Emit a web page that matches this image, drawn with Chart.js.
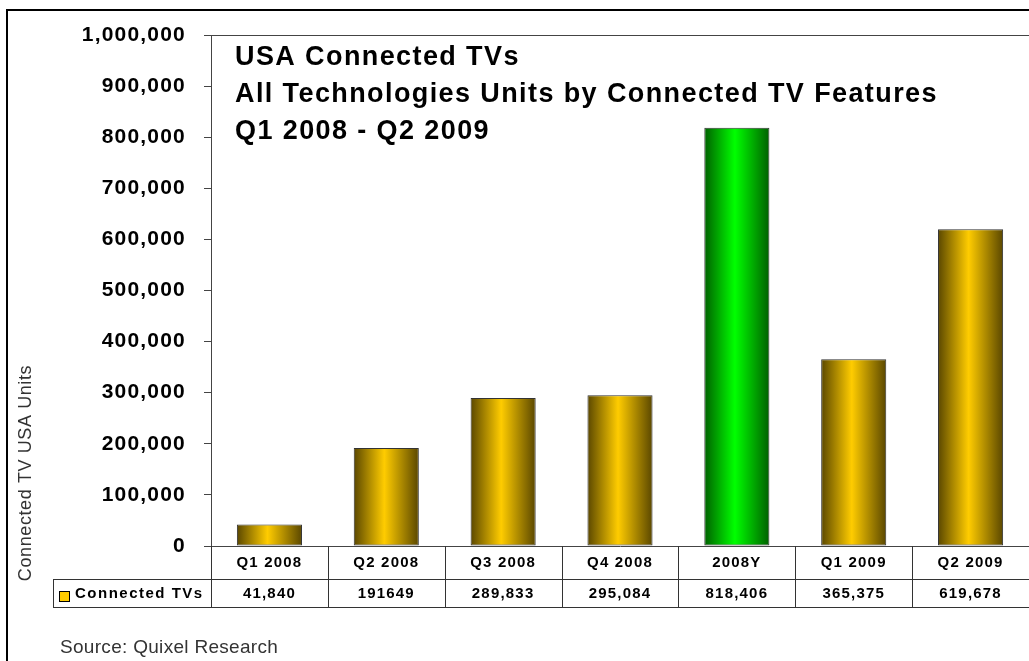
<!DOCTYPE html>
<html>
<head>
<meta charset="utf-8">
<script src="https://cdn.jsdelivr.net/npm/chart.js@4.4.1/dist/chart.umd.min.js"></script>
<style>
  html, body { margin: 0; padding: 0; background: #fff; overflow: hidden; }
  #box { width: 1029px; height: 661px; }
</style>
</head>
<body>
<div id="box"><canvas id="mycanvas"></canvas></div>
<script>
var categories = ['Q1 2008', 'Q2 2008', 'Q3 2008', 'Q4 2008', '2008Y', 'Q1 2009', 'Q2 2009'];
var connectedTVs = [41840, 191649, 289833, 295084, 818406, 365375, 619678];
// table row text as printed in the picture
var tableLabels = ['41,840', '191649', '289,833', '295,084', '818,406', '365,375', '619,678'];
var yTicks = [0, 100000, 200000, 300000, 400000, 500000, 600000, 700000, 800000, 900000, 1000000];
var titleLines = ['USA Connected TVs', 'All Technologies Units by Connected TV Features', 'Q1 2008 - Q2 2009'];
var seriesName = 'Connected TVs';
var yTitle = 'Connected TV USA Units';
var sourceText = 'Source: Quixel Research';

var FONT = '"Liberation Sans", Arial, sans-serif';
var BAR_PCT = 0.557;

function barFill(context) {
  var chart = context.chart;
  var xs = chart.scales.x;
  var green = categories[context.dataIndex] === '2008Y';
  var edge = green ? '#006000' : '#5a4700';
  var mid = green ? '#00ff00' : '#ffcc00';
  if (!xs || !chart.chartArea) return mid;
  var cx = xs.getPixelForValue(context.dataIndex);
  var half = xs.width / categories.length * BAR_PCT / 2;
  var g = chart.ctx.createLinearGradient(cx - half, 0, cx + half, 0);
  g.addColorStop(0, edge);
  g.addColorStop(0.47, mid);
  g.addColorStop(1, edge);
  return g;
}

var extras = {
  id: 'extras',
  beforeDraw: function(chart) {
    chart.ctx.letterSpacing = '1.2px';
  },
  afterDraw: function(chart) {
    var ctx = chart.ctx;
    var area = chart.chartArea;
    var xs = chart.scales.x;
    var cw = xs.width / categories.length;
    var rowTop = area.bottom + 33;
    var rowBot = area.bottom + 61;
    var tableLeft = 53;

    ctx.save();
    // plot area top edge
    ctx.strokeStyle = '#444';
    ctx.lineWidth = 1;
    ctx.beginPath();
    ctx.moveTo(area.left, area.top + 0.5);
    ctx.lineTo(area.right, area.top + 0.5);
    ctx.stroke();

    // data table grid
    ctx.strokeStyle = '#333';
    ctx.beginPath();
    ctx.moveTo(tableLeft, rowTop + 0.5);
    ctx.lineTo(area.right, rowTop + 0.5);
    ctx.moveTo(tableLeft, rowBot + 0.5);
    ctx.lineTo(area.right, rowBot + 0.5);
    ctx.moveTo(tableLeft + 0.5, rowTop);
    ctx.lineTo(tableLeft + 0.5, rowBot);
    for (var i = 0; i <= categories.length; i++) {
      var lx = Math.round(xs.getPixelForValue(i) - cw / 2) + 0.5;
      ctx.moveTo(lx, area.bottom);
      ctx.lineTo(lx, rowBot);
    }
    ctx.stroke();

    // legend key + series name
    ctx.fillStyle = '#ffcc00';
    ctx.fillRect(59.5, rowTop + 12.5, 10, 10);
    ctx.strokeStyle = '#000';
    ctx.strokeRect(59.5, rowTop + 12.5, 10, 10);

    ctx.fillStyle = '#000';
    ctx.font = 'bold 15px ' + FONT;
    ctx.letterSpacing = '1.5px';
    ctx.textBaseline = 'middle';
    ctx.textAlign = 'left';
    ctx.fillText(seriesName, 75, (rowTop + rowBot) / 2 + 1);
    ctx.letterSpacing = '1.2px';
    ctx.textAlign = 'center';
    for (var j = 0; j < tableLabels.length; j++) {
      ctx.fillText(tableLabels[j], xs.getPixelForValue(j), (rowTop + rowBot) / 2 + 1);
    }

    // title block
    ctx.font = 'bold 27px ' + FONT;
    ctx.letterSpacing = '1.4px';
    ctx.textAlign = 'left';
    ctx.textBaseline = 'alphabetic';
    for (var k = 0; k < titleLines.length; k++) {
      ctx.fillText(titleLines[k], 235, 65 + k * 37);
    }

    // y axis title
    ctx.save();
    ctx.translate(26, 473);
    ctx.rotate(-Math.PI / 2);
    ctx.font = '18px ' + FONT;
    ctx.letterSpacing = '0.6px';
    ctx.fillStyle = '#333';
    ctx.textAlign = 'center';
    ctx.textBaseline = 'middle';
    ctx.fillText(yTitle, 0, 0);
    ctx.restore();

    // source note
    ctx.font = '19px ' + FONT;
    ctx.letterSpacing = '0.3px';
    ctx.fillStyle = '#333';
    ctx.textAlign = 'left';
    ctx.textBaseline = 'alphabetic';
    ctx.fillText(sourceText, 60, 653);

    // outer frame
    ctx.strokeStyle = '#000';
    ctx.lineWidth = 2;
    ctx.beginPath();
    ctx.moveTo(7, 700);
    ctx.lineTo(7, 10);
    ctx.lineTo(1040, 10);
    ctx.stroke();
    ctx.restore();
  }
};

var ctx = document.getElementById('mycanvas');

var Graph = new Chart(ctx, {
  type: 'bar',
  data: {
    labels: categories,
    datasets: [{
      label: seriesName,
      data: connectedTVs,
      backgroundColor: barFill,
      borderColor: '#333',
      borderWidth: 1,
      borderSkipped: false,
      categoryPercentage: 1,
      barPercentage: BAR_PCT
    }]
  },
  options: {
    responsive: true,
    maintainAspectRatio: false,
    animation: false,
    layout: { padding: { top: 35, right: 0, bottom: 0, left: 0 } },
    plugins: {
      legend: { display: false },
      tooltip: { enabled: false },
      title: { display: false }
    },
    scales: {
      x: {
        offset: true,
        grid: { display: false },
        border: { display: true, color: '#444', width: 1 },
        ticks: {
          color: '#000',
          font: { family: FONT, size: 15, weight: 'bold' },
          padding: 0,
          maxRotation: 0,
          autoSkip: false
        },
        afterFit: function(scale) { scale.height = 115; }
      },
      y: {
        min: 0,
        max: 1000000,
        afterBuildTicks: function(scale) {
          scale.ticks = yTicks.map(function(v) { return { value: v }; });
        },
        grid: { drawOnChartArea: false, drawTicks: true, tickLength: 7, color: '#444' },
        border: { display: true, color: '#444', width: 1 },
        ticks: {
          color: '#000',
          font: { family: FONT, size: 21, weight: 'bold' },
          padding: 18,
          callback: function(v) { return v.toLocaleString('en-US'); }
        },
        afterFit: function(scale) { scale.width = 211; }
      }
    }
  },
  plugins: [extras]
});
</script>
</body>
</html>
